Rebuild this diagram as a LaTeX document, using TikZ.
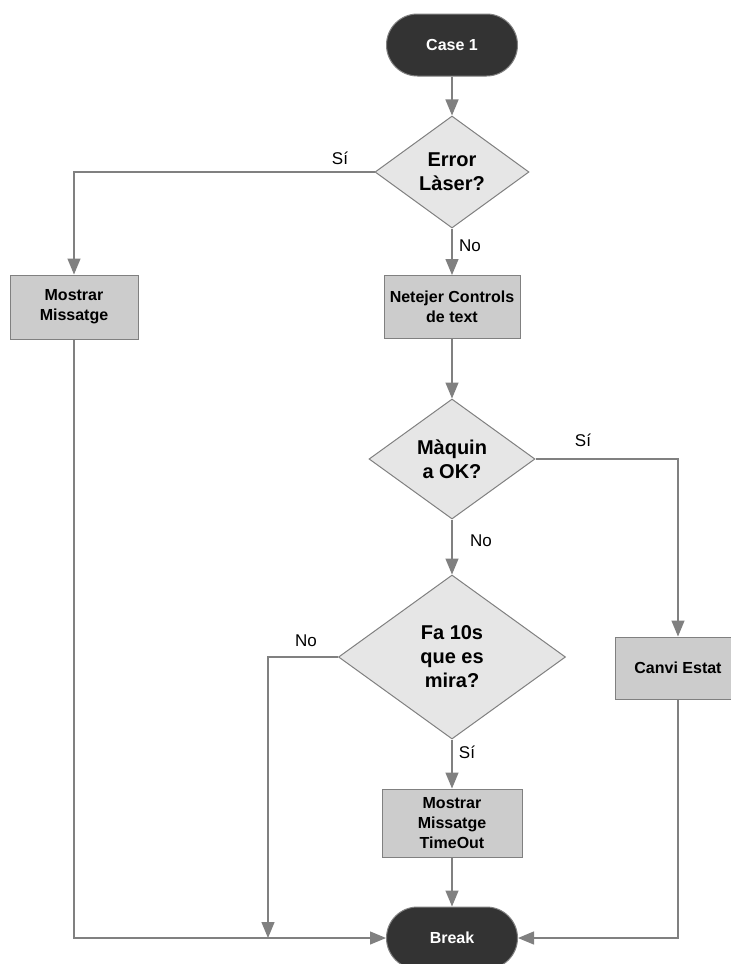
\documentclass[tikz,border=0pt]{standalone}
\usepackage{fontspec}
\setmainfont{Liberation Sans}
\usetikzlibrary{shapes.geometric,arrows.meta}
\definecolor{linegray}{RGB}{128,128,128}
\definecolor{termfill}{RGB}{51,51,51}
\definecolor{decfill}{RGB}{230,230,230}
\definecolor{procfill}{RGB}{204,204,204}

\begin{document}
\begin{tikzpicture}[x=1pt,y=-1pt,
  terminal/.style={draw=linegray, line width=1pt, fill=termfill, text=white,
    rounded corners=31pt, minimum width=131pt, minimum height=62pt,
    inner sep=0pt, font=\bfseries\fontsize{16}{20}\selectfont},
  decision/.style={diamond, draw=linegray, line width=1pt, fill=decfill,
    inner sep=0pt, align=center, font=\bfseries\fontsize{20}{24}\selectfont},
  process/.style={rectangle, draw=linegray, line width=1pt, fill=procfill,
    inner sep=0pt, align=center, font=\bfseries\fontsize{16}{20}\selectfont},
  answer/.style={inner sep=0pt, font=\fontsize{17}{20}\selectfont},
  flow/.style={draw=linegray, line width=1.3pt,
    -{Triangle[length=16pt,width=13pt,fill=linegray]}},
  plain/.style={draw=linegray, line width=1.3pt}
]
  % page frame
  \fill[white] (0,0) rectangle (731,964);
  \useasboundingbox (0,0) rectangle (731,964);

  % nodes
  \node[terminal] (start) at (452,45) {Case 1};
  \node[decision, minimum width=154pt, minimum height=112pt] (laser) at (452,172) {Error\\Làser?};
  \node[process, minimum width=128pt, minimum height=64pt] (msg) at (74,307) {Mostrar\\Missatge};
  \node[process, minimum width=136pt, minimum height=63pt] (clear) at (452,307) {Netejer Controls\\de text};
  \node[decision, minimum width=166pt, minimum height=120pt] (ok) at (452,459) {Màquin\\a OK?};
  \node[decision, minimum width=227pt, minimum height=164pt] (wait) at (452,657) {Fa 10s\\que es\\mira?};
  \node[process, minimum width=126pt, minimum height=62pt] (state) at (678,668) {Canvi Estat};
  \node[process, minimum width=140pt, minimum height=68pt] (timeout) at (452,823) {Mostrar\\Missatge\\TimeOut};
  \node[terminal] (stop) at (452,938) {Break};

  % junction on the bottom return line
  \coordinate (join) at (268,938);

  % branch labels
  \node[answer] (a1) at (340,158) {Sí};
  \node[answer] (a2) at (470,246) {No};
  \node[answer] (a3) at (583,440) {Sí};
  \node[answer] (a4) at (481,541) {No};
  \node[answer] (a5) at (306,641) {No};
  \node[answer] (a6) at (467,752) {Sí};

  % connectors
  \draw[flow] (start) -- (laser);
  \draw[flow] (laser.west) -| (msg.north);
  \draw[flow] (laser.south) -- (clear.north);
  \draw[flow] (clear.south) -- (ok.north);
  \draw[flow] (ok.east) -| (state.north);
  \draw[flow] (ok.south) -- (wait.north);
  \draw[flow] (wait.west) -| (join);
  \draw[flow] (wait.south) -- (timeout.north);
  \draw[flow] (timeout.south) -- (stop.north);
  \draw[flow] (msg.south) |- (stop.west);
  \draw[flow] (state.south) |- (stop.east);
\end{tikzpicture}
\end{document}
